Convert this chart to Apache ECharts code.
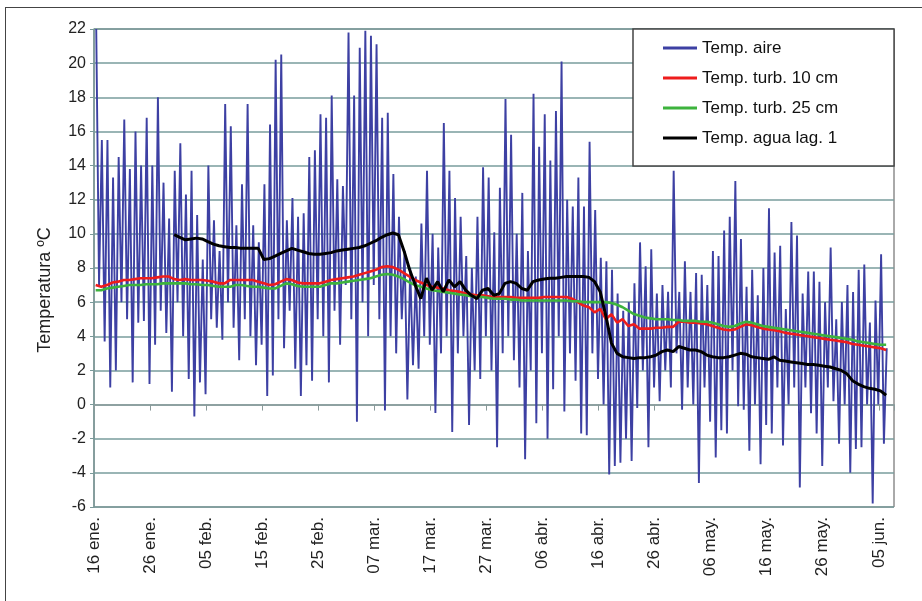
<!DOCTYPE html>
<html>
<head>
<meta charset="utf-8">
<title>Temperaturas</title>
<script src="https://cdn.jsdelivr.net/npm/echarts@6/dist/echarts.min.js"></script>
<style>
  html, body { margin: 0; padding: 0; background: #fff; }
  #chart { position: absolute; left: 0; top: 0; width: 922px; height: 601px; }
  #frame { position: absolute; left: 5px; top: 7px; width: 917px; height: 594px;
           border-top: 1.5px solid #444; border-left: 1.5px solid #444; pointer-events: none; }
</style>
</head>
<body>
<div id="chart"></div>
<div id="frame"></div>
<script>
// dias contados desde el 16 ene. (dia 0)
const tickLabels = ['16 ene.', '26 ene.', '05 feb.', '15 feb.', '25 feb.', '07 mar.', '17 mar.',
  '27 mar.', '06 abr.', '16 abr.', '26 abr.', '06 may.', '16 may.', '26 may.', '05 jun.'];

// Temp. aire: maxima y minima diarias
const airMax = [
  22, 15.5, 15.5, 13.3, 14.5, 16.7, 13.8, 16, 14, 16.8,
  14, 18, 13, 10.9, 13.7, 15.3, 12.3, 13.7, 11.1, 8.5,
  14, 10.8, 9, 17.6, 16.3, 10.5, 12.9, 17.6, 10.5, 9.5,
  12.9, 16.4, 20.2, 20.5, 10.8, 12.1, 11, 11.2, 14.5, 14.9,
  17, 16.8, 18.1, 13.2, 12.8, 21.8, 18.1, 20.9, 21.9, 21.6,
  21.1, 16.8, 17.1, 13.5, 11, 9, 8, 7.5, 10.6, 13.7,
  10, 9.2, 16.5, 13.7, 12.1, 11, 8.7, 8, 11, 13.9,
  13.3, 10.1, 12.7, 17.9, 15.8, 10, 12.4, 9, 18.2, 15.1,
  17, 14.3, 17.2, 20.1, 12, 11.6, 13.3, 11.6, 15.4, 11.4,
  8.6, 8.4, 7.9, 6.5, 5.5, 6, 7.1, 9.5, 8.1, 9.1,
  6.5, 7, 6.6, 13.7, 6.6, 8.4, 6.6, 7.7, 7.6, 7,
  9, 8.7, 10.2, 11, 13.1, 9.7, 6.9, 7.9, 6.4, 8,
  11.5, 8.9, 9.3, 5.6, 10.7, 9.9, 6.5, 7.8, 7.8, 7.2,
  6, 9.2, 5, 6, 7, 6.6, 7.9, 8.2, 4.8, 6.1,
  8.8, 3.3
];
const airMin = [
  7, 3.7, 1.0, 2, 6, 5, 1.3, 4.8, 4.9, 1.2,
  3.5, 5.5, 4.2, 0.75, 6, 4, 1.5, -0.7, 1.3, 0.6,
  5, 4.5, 3.8, 6, 4.5, 2.6, 5, 4, 2.3, 3.5,
  0.5, 1.7, 5, 3.3, 5.5, 2.1, 0.5, 2.3, 1.4, 5,
  4, 1.3, 5.5, 3.5, 7, 5, -1, 6, 4, 7,
  5, -0.35, 4, 3, 5, 0.3, 2.3, 2.1, 4, 3.5,
  -0.5, 3, 4, -1.6, 3, 4, -1.2, 2, 1.5, 4,
  2, -2.5, 3, 4, 2.6, 1, -3.2, 2, -1.1, 3,
  -2, 0.9, 4, -0.4, 3, 1.4, -1.7, -1.8, 3, 1.5,
  0, -4.1, -3.6, -3.4, -2, -3.3, -0.2, 2, -2.5, 1,
  0.2, 2, 1, 3, -0.3, 1, 0, -4.6, 1, -1,
  -3.1, -1.5, -1.7, 2, -0.1, -0.3, -2.7, 0, -3.5, -1.2,
  -1.7, 1, -2.4, 0, 1, -4.85, 1, -0.5, -1.7, -3.6,
  1, 0.2, -2.3, 0, -4, -2.6, -2.5, 0, -5.8, 0,
  -2.3
];

// Temp. turb. 10 cm (diaria desde el dia 0)
const turb10 = [
  7.0, 6.9, 7.0, 7.15, 7.2, 7.3, 7.3, 7.35, 7.4, 7.4,
  7.4, 7.45, 7.5, 7.5, 7.35, 7.3, 7.35, 7.3, 7.3, 7.3,
  7.25, 7.2, 7.1, 7.1, 7.3, 7.3, 7.3, 7.3, 7.3, 7.2,
  7.1, 7.0, 7.05, 7.2, 7.35, 7.3, 7.15, 7.1, 7.1, 7.1,
  7.1, 7.2, 7.3, 7.35, 7.4, 7.45, 7.5, 7.6, 7.7, 7.8,
  7.9, 8.05, 8.1, 8.05, 7.9, 7.7, 7.5, 7.3, 7.15, 7.0,
  6.9, 6.85, 6.8, 6.7, 6.65, 6.6, 6.5, 6.45, 6.4, 6.4,
  6.35, 6.3, 6.3, 6.3, 6.3, 6.25, 6.25, 6.25, 6.25, 6.25,
  6.3, 6.3, 6.3, 6.3, 6.3, 6.2, 6.0, 5.8, 5.7, 5.4,
  5.6, 5.0, 5.3, 4.8, 5.0, 4.6, 4.7, 4.45, 4.45, 4.45,
  4.5, 4.5, 4.55, 4.55, 4.85, 4.85, 4.8, 4.8, 4.75, 4.7,
  4.6, 4.5, 4.4, 4.35, 4.4, 4.55, 4.7, 4.65, 4.55, 4.45,
  4.4, 4.35, 4.3, 4.2, 4.15, 4.1, 4.05, 4.0, 3.95, 3.9,
  3.85, 3.8, 3.75, 3.7, 3.65, 3.55, 3.5, 3.45, 3.4, 3.35,
  3.3, 3.2
];

// Temp. turb. 25 cm (diaria desde el dia 0)
const turb25 = [
  6.7, 6.7, 6.8, 6.85, 6.9, 6.95, 7.0, 7.0, 7.0, 7.05,
  7.05, 7.05, 7.1, 7.1, 7.1, 7.1, 7.1, 7.05, 7.05, 7.0,
  7.0, 6.95, 6.9, 6.9, 6.9, 7.0, 7.0, 6.95, 6.9, 6.9,
  6.85, 6.8, 6.8, 6.95, 7.1, 7.05, 6.95, 6.9, 6.9, 6.9,
  6.9, 7.0, 7.1, 7.1, 7.15, 7.2, 7.25, 7.3, 7.35, 7.4,
  7.5, 7.6, 7.65, 7.6, 7.5, 7.35, 7.15, 7.0, 6.9, 6.8,
  6.7, 6.65, 6.6, 6.55, 6.5, 6.45, 6.4, 6.35, 6.3, 6.3,
  6.25, 6.2, 6.2, 6.2, 6.15, 6.15, 6.1, 6.1, 6.1, 6.1,
  6.1, 6.1, 6.1, 6.1, 6.1, 6.05, 6.05, 6.0, 6.0, 6.0,
  6.0, 6.0, 5.95, 5.85, 5.7, 5.5, 5.3, 5.2, 5.1, 5.05,
  5.0, 5.0, 5.0, 4.95, 4.95, 4.9, 4.9, 4.9, 4.85, 4.85,
  4.8, 4.7, 4.6, 4.55, 4.6, 4.75, 4.85, 4.8, 4.7, 4.6,
  4.55, 4.5, 4.45, 4.4, 4.35, 4.3, 4.25, 4.2, 4.15, 4.1,
  4.05, 4.0, 3.95, 3.9, 3.85, 3.8, 3.7, 3.65, 3.6, 3.55,
  3.5, 3.5
];

// Temp. agua lag. 1 (diaria desde el dia 14)
const aguaStart = 14;
const agua = [
  9.95, 9.8, 9.65, 9.7, 9.75, 9.7,
  9.55, 9.4, 9.3, 9.25, 9.2, 9.2, 9.15, 9.15, 9.15, 9.15,
  8.5, 8.55, 8.7, 8.85, 9.0, 9.15, 9.05, 8.95, 8.85, 8.8,
  8.8, 8.85, 8.9, 9.0, 9.05, 9.1, 9.15, 9.2, 9.3, 9.45,
  9.6, 9.8, 9.95, 10.05, 9.95, 9.0, 7.9, 7.0, 6.2, 7.4,
  6.7, 7.2, 6.6, 7.3, 6.9, 7.2, 6.7, 6.4, 6.2, 6.7,
  6.8, 6.4, 6.5, 7.1, 7.2, 7.1, 6.8, 6.7, 7.2, 7.3,
  7.35, 7.4, 7.4, 7.45, 7.5, 7.5, 7.5, 7.5, 7.45, 7.2,
  6.6, 5.2, 3.6, 3.0, 2.8, 2.75, 2.7, 2.75, 2.75, 2.8,
  2.9, 3.1, 3.2, 3.1, 3.4, 3.3, 3.2, 3.2, 3.1, 2.9,
  2.8, 2.75, 2.75, 2.8, 2.9, 3.0, 2.95, 2.8, 2.75, 2.7,
  2.65, 2.8, 2.6, 2.55, 2.5, 2.45, 2.4, 2.35, 2.35, 2.3,
  2.25, 2.2, 2.1, 2.0, 1.8, 1.4, 1.2, 1.05, 0.95, 0.9,
  0.8, 0.55
];

const airData = [];
airMax.forEach((v, d) => {
  airData.push([d + 0.4, v]);
  if (airMin[d] !== undefined) airData.push([d + 0.9, airMin[d]]);
});
const turb10Data = turb10.map((v, d) => [d + 0.3, v]);
const turb25Data = turb25.map((v, d) => [d + 0.3, v]);
const aguaData = agua.map((v, i) => [aguaStart + i + 0.3, v]);

const font = 'Liberation Sans, Arial, Helvetica, sans-serif';
const chart = echarts.init(document.getElementById('chart'));

const option = {
  animation: false,
  backgroundColor: '#fff',
  textStyle: { fontFamily: font },
  grid: {
    left: 94, right: 28, top: 29, bottom: 94,
    show: true, borderColor: '#555', borderWidth: 1, backgroundColor: 'transparent'
  },
  legend: {
    orient: 'vertical',
    left: 633, top: 29,
    padding: [9, 56, 18, 30],
    itemGap: 10,
    itemWidth: 34, itemHeight: 3,
    icon: 'rect',
    itemTextGap: 2,
    backgroundColor: '#fff',
    borderColor: '#444', borderWidth: 1.5,
    textStyle: { fontFamily: font, fontSize: 17, color: '#111', lineHeight: 20 },
    data: ['Temp. aire', 'Temp. turb. 10 cm', 'Temp. turb. 25 cm', 'Temp. agua lag. 1']
  },
  xAxis: {
    type: 'value',
    min: 0, max: 142.7, interval: 10,
    axisLine: { lineStyle: { color: '#8a9a9a', width: 1.5 } },
    axisTick: { show: true, length: 6, lineStyle: { color: '#8a9a9a' } },
    splitLine: { show: false },
    axisLabel: {
      rotate: 90, margin: 10, fontSize: 17, color: '#222', fontFamily: font,
      formatter: v => (v % 10 === 0 && tickLabels[v / 10]) ? tickLabels[v / 10] : ''
    }
  },
  yAxis: {
    type: 'value',
    min: -6, max: 22, interval: 2,
    name: 'Temperatura ºC',
    nameLocation: 'middle',
    nameGap: 40,
    nameTextStyle: { fontSize: 18, color: '#222', fontFamily: font, padding: [0, 44, 0, 0] },
    axisLine: { show: true, lineStyle: { color: '#7a9a9a', width: 1.5 } },
    axisTick: { show: true, length: 4, lineStyle: { color: '#7a9a9a' } },
    axisLabel: { fontSize: 16, color: '#222', margin: 8, fontFamily: font },
    splitLine: { lineStyle: { color: '#789c9c', width: 1.5 } }
  },
  series: [
    {
      name: 'Temp. aire', type: 'line', data: airData, symbol: 'none', z: 1,
      lineStyle: { color: '#3d40a3', width: 1.9 }, itemStyle: { color: '#3d40a3' }
    },
    {
      name: 'Temp. turb. 10 cm', type: 'line', data: turb10Data, symbol: 'none', z: 2,
      lineStyle: { color: '#ee1c1c', width: 2.6 }, itemStyle: { color: '#ee1c1c' }
    },
    {
      name: 'Temp. turb. 25 cm', type: 'line', data: turb25Data, symbol: 'none', z: 3,
      lineStyle: { color: '#3db33d', width: 2.6 }, itemStyle: { color: '#3db33d' }
    },
    {
      name: 'Temp. agua lag. 1', type: 'line', data: aguaData, symbol: 'none', z: 4,
      lineStyle: { color: '#000', width: 3 }, itemStyle: { color: '#000' }
    }
  ]
};

chart.setOption(option);
</script>
</body>
</html>
